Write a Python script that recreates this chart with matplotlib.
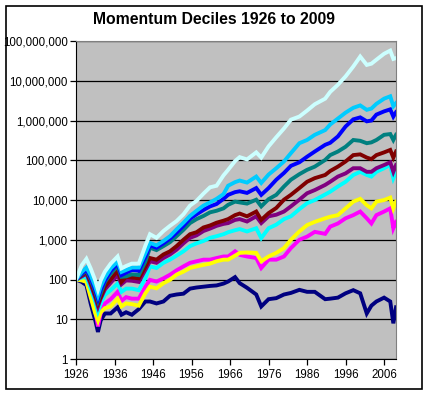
import matplotlib.pyplot as plt
from matplotlib.ticker import FuncFormatter, FixedLocator, NullLocator
from matplotlib.patches import Rectangle

# year positions of the sampled points
years = [1926, 1927.5, 1928.7, 1929.8, 1931, 1931.7, 1932.4, 1933.5, 1935, 1936.8,
         1937.8, 1939, 1940.5, 1942.3, 1944, 1945.2, 1946.9, 1948.7, 1950.4, 1952.1,
         1953.9, 1955.6, 1957.3, 1959.1, 1960.8, 1962.5, 1964.3, 1965.5, 1967.3, 1968.5,
         1970.4, 1972.8, 1974.1, 1976, 1978, 1980, 1981.8, 1984, 1986, 1988,
         1990.7, 1992, 1994, 1996, 1998, 1999.8, 2001.5, 2002.7, 2004, 2006,
         2007.6, 2008.4, 2009.1]

# growth of $100, decile 1 (losers) .. decile 10 (winners)
decile1 = [100, 87, 72, 25, 9.3, 4.8, 9.3, 14, 14, 20,
           13, 15, 13, 18, 28, 28, 25, 28, 39, 42,
           44, 59, 63, 66, 69, 71, 79, 89, 115, 81,
           62, 42, 21, 32, 34, 42, 46, 55, 49, 49,
           32, 33, 35, 45, 54, 45, 14, 22, 28, 35,
           28, 7.9, 20]
decile2 = [100, 100, 95, 40, 17, 6.6, 14, 25, 32, 49,
           29, 36, 33, 33, 66, 98, 89, 107, 132, 170,
           214, 263, 288, 316, 316, 347, 380, 380, 513, 417,
           380, 347, 195, 316, 316, 380, 617, 1000, 1200, 1580,
           1410, 2140, 2570, 3470, 4170, 5130, 3470, 2570, 4170, 5130,
           6170, 1950, 2820]
decile3 = [100, 95, 87, 36, 14, 9.3, 15, 19, 21, 33,
           21, 25, 24, 22, 45, 66, 60, 81, 98, 132,
           158, 195, 214, 234, 251, 288, 316, 316, 398, 468,
           479, 468, 288, 380, 468, 617, 1000, 1620, 2340, 2820,
           3470, 3800, 4170, 6170, 9120, 10700, 7410, 6170, 9120, 10000,
           11500, 6170, 9120]
decile4 = [100, 112, 117, 59, 28, 16, 25, 41, 54, 79,
           49, 59, 59, 54, 107, 214, 195, 263, 316, 398,
           513, 692, 813, 933, 1120, 1230, 1380, 1550, 1740, 1860,
           1620, 1950, 1100, 1950, 2400, 3310, 3890, 5890, 8320, 10000,
           13800, 16200, 21900, 28800, 42700, 51300, 42700, 38900, 51300, 63100,
           75900, 35500, 51300]
decile5 = [100, 120, 141, 76, 35, 21, 33, 56, 83, 129,
           76, 95, 93, 87, 174, 288, 263, 347, 427, 562,
           813, 1120, 1290, 1660, 1910, 2240, 2510, 2630, 3160, 3310,
           2880, 3890, 2630, 3890, 4270, 5130, 6920, 10200, 14800, 17800,
           24000, 28800, 38900, 46800, 63100, 63100, 51300, 51300, 63100, 75900,
           89100, 51300, 75900]
decile6 = [100, 129, 155, 87, 40, 25, 36, 66, 100, 166,
           87, 117, 112, 107, 209, 347, 316, 427, 513, 692,
           1000, 1380, 1550, 2040, 2290, 2690, 3020, 3310, 4170, 4570,
           3890, 5130, 3160, 4680, 6310, 10200, 13500, 20000, 28800, 35500,
           42700, 53700, 69200, 93300, 135000, 141000, 117000, 107000, 135000, 158000,
           182000, 117000, 166000]
decile7 = [100, 135, 166, 100, 49, 29, 45, 87, 141, 219,
           117, 120, 135, 129, 282, 631, 550, 692, 871, 1230,
           1780, 2630, 3310, 3980, 4900, 5370, 6170, 7590, 9120, 8710,
           8130, 10200, 6920, 10500, 13500, 21900, 32400, 44700, 57500, 69200,
           102000, 135000, 166000, 219000, 324000, 309000, 269000, 282000, 324000, 437000,
           457000, 324000, 437000]
decile8 = [100, 141, 178, 112, 54, 33, 54, 95, 166, 251,
           129, 148, 174, 166, 372, 724, 631, 813, 1070, 1510,
           2240, 3390, 4370, 5620, 6920, 7940, 10700, 13500, 15800, 16600,
           15100, 20000, 13500, 20000, 32400, 47900, 72400, 89100, 123000, 166000,
           245000, 275000, 398000, 708000, 1070000, 1200000, 955000, 1000000, 1410000, 1700000,
           1910000, 1260000, 1620000]
decile9 = [100, 155, 200, 129, 66, 40, 66, 112, 191, 282,
           155, 174, 200, 200, 457, 832, 724, 933, 1230, 1820,
           2690, 3980, 5370, 7240, 8710, 10700, 14100, 22900, 28200, 30900,
           27500, 38900, 26900, 43700, 63100, 93300, 151000, 269000, 324000, 437000,
           575000, 794000, 1120000, 1580000, 2090000, 2400000, 1860000, 2000000, 2630000, 3550000,
           4070000, 2290000, 2750000]
decile10 = [100, 229, 331, 191, 95, 56, 95, 158, 251, 380,
            191, 219, 251, 251, 708, 1380, 1120, 1660, 2240, 2950,
            4370, 7240, 9550, 14500, 20900, 22900, 41700, 57500, 95500, 120000,
            105000, 158000, 117000, 224000, 380000, 631000, 1050000, 1260000, 1780000, 2570000,
            3550000, 5250000, 7940000, 12900000, 22900000, 40700000, 25100000, 26900000, 33900000, 47900000,
            57500000, 35500000, 37200000]

series = [decile1, decile2, decile3, decile4, decile5,
          decile6, decile7, decile8, decile9, decile10]
colors = ['#000080', '#FF00FF', '#FFFF00', '#00FFFF', '#800080',
          '#800000', '#008080', '#0000FF', '#00CCFF', '#CCFFFF']

plt.rcParams['font.family'] = ['Liberation Sans', 'DejaVu Sans']

fig = plt.figure(figsize=(4.28, 3.95), dpi=100)
fig.patch.set_facecolor('white')
fig.patches.append(Rectangle((0.013, 0.016), 0.973, 0.970, transform=fig.transFigure,
                             fill=False, edgecolor='black', linewidth=1.2))

ax = fig.add_axes([0.1776, 0.0911, 0.7477, 0.805])
ax.set_facecolor('#C0C0C0')

for vals, c in zip(series, colors):
    ax.plot(years, vals, color=c, linewidth=2.8, solid_joinstyle='miter')

ax.set_yscale('log')
ax.set_ylim(1, 1e8)
ax.set_xlim(1926, 2009.1)

ax.yaxis.set_major_locator(FixedLocator([10 ** i for i in range(9)]))
ax.yaxis.set_minor_locator(NullLocator())
ax.yaxis.set_major_formatter(FuncFormatter(lambda v, p: f'{v:,.0f}'))
ax.xaxis.set_major_locator(FixedLocator(list(range(1926, 2007, 10))))
ax.xaxis.set_major_formatter(FuncFormatter(lambda v, p: f'{v:.0f}'))

ax.grid(True, axis='y', color='black', linewidth=0.9)
ax.set_axisbelow(True)
ax.tick_params(axis='both', direction='out', length=4, width=0.9, labelsize=8.3,
               color='black', pad=2)
ax.tick_params(axis='x', pad=3)

for s in ['top', 'right']:
    ax.spines[s].set_color('#808080')
for s in ['left', 'bottom']:
    ax.spines[s].set_color('black')

fig.text(0.5, 0.951, 'Momentum Deciles 1926 to 2009', ha='center', va='center',
         fontsize=11.3, fontweight='bold')

fig.savefig('out.png', dpi=100)
